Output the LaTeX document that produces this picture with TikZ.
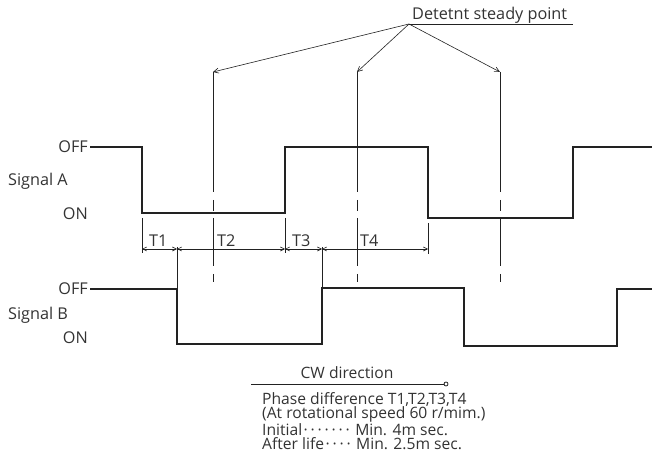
\documentclass[tikz,border=0pt]{standalone}
\usepackage{fontspec}
\setmainfont{Open Sans}
\usetikzlibrary{arrows.meta}
\definecolor{txt}{HTML}{333333}
\definecolor{ink}{HTML}{222222}
\newcommand{\dotbox}{\makebox[7bp]{·}}
\tikzset{
  sig/.style={draw=ink, line width=1.3bp, line join=miter},
  thin/.style={draw=ink, line width=0.6bp},
  lbl/.style={font=\fontsize{16.3}{17}\selectfont, text=txt, inner sep=0pt},
  small/.style={font=\fontsize{15.7}{14.5}\selectfont, text=txt, inner sep=0pt},
  barb/.style={-{Straight Barb[length=5bp,width=5bp,line width=0.6bp]}},
  dimarr/.style={{Straight Barb[length=4bp,width=4bp,line width=0.6bp]}-{Straight Barb[length=4bp,width=4bp,line width=0.6bp]}}
}
\begin{document}
\begin{tikzpicture}[x=1bp,y=-1bp]
\useasboundingbox (0,0) rectangle (652,469);

% ---------- Signal A ----------
\node[lbl, anchor=east] (aoff) at (88,147) {OFF};
\node[lbl, anchor=west] (asig) at (8,181) {Signal A};
\node[lbl, anchor=east] (aon) at (88,213.5) {ON};
\draw[sig] (90,147) -- (142,147) -- (142,213) -- (285,213) -- (285,147)
  -- (428,147) -- (428,218) -- (573,218) -- (573,147) -- (652,147);

% ---------- Signal B ----------
\node[lbl, anchor=east] (boff) at (88,289) {OFF};
\node[lbl, anchor=west] (bsig) at (8,315) {Signal B};
\node[lbl, anchor=east] (bon) at (88,338) {ON};
\draw[sig] (90,289) -- (177,289) -- (177,344) -- (322,344) -- (322,288)
  -- (464,288) -- (464,346) -- (617,346) -- (617,289) -- (652,289);

% ---------- extension lines ----------
\draw[thin] (142,218) -- (142,253);
\draw[thin] (177,247) -- (177,289);
\draw[thin] (285,218) -- (285,253);
\draw[thin] (322,247) -- (322,288);
\draw[thin] (428,223) -- (428,254);

% ---------- dimension line ----------
\coordinate (d0) at (142,249);
\coordinate (d1) at (177,249);
\coordinate (d2) at (285,249);
\coordinate (d3) at (322,249);
\coordinate (d4) at (428,249);
\draw[thin, dimarr] (d0) -- (d1);
\draw[thin, dimarr] (d1) -- (d2);
\draw[thin, dimarr] (d2) -- (d3);
\draw[thin, dimarr] (d3) -- (d4);
\node[lbl, anchor=base west] (t1) at (149,247) {T1};
\node[lbl, anchor=base west] (t2) at (217,247) {T2};
\node[lbl, anchor=base west] (t3) at (292,247) {T3};
\node[lbl, anchor=base west] (t4) at (360,247) {T4};

% ---------- centre lines (steady points) ----------
\foreach \cx/\nm in {213/c1, 357/c2, 500/c3}{
  \coordinate (\nm) at (\cx,72);
  \draw[thin] (\cx,72) -- (\cx,192);
  \draw[thin] (\cx,200) -- (\cx,211);
  \draw[thin] (\cx,218) -- (\cx,266);
  \draw[thin] (\cx,274) -- (\cx,282);
}

% ---------- leader ----------
\coordinate (apex) at (409,24);
\node[lbl, anchor=base west] (steady) at (412,20) {Detetnt steady point};
\draw[thin] (apex) -- (573,24);
\draw[thin, barb] (apex) -- (c1);
\draw[thin, barb] (apex) -- (c2);
\draw[thin, barb] (apex) -- (c3);

% ---------- CW direction ----------
\node[small, anchor=base] (cw) at (347,378) {CW direction};
\coordinate (cws) at (251,384);
\coordinate (cwe) at (446,384);
\draw[thin] (cws) -- (cwe);
\draw[draw=ink, line width=0.8bp, fill=white] (cwe) circle (2bp);

\node[small, anchor=north west, align=left] (notes) at (262,392.2) {%
Phase difference T1,T2,T3,T4\\
(At rotational speed 60 r/mim.)\\
Initial\dotbox\dotbox\dotbox\dotbox\dotbox\dotbox\dotbox\ Min. 4m sec.\\
After life\dotbox\dotbox\dotbox\dotbox\ Min. 2.5m sec.};
\end{tikzpicture}
\end{document}
